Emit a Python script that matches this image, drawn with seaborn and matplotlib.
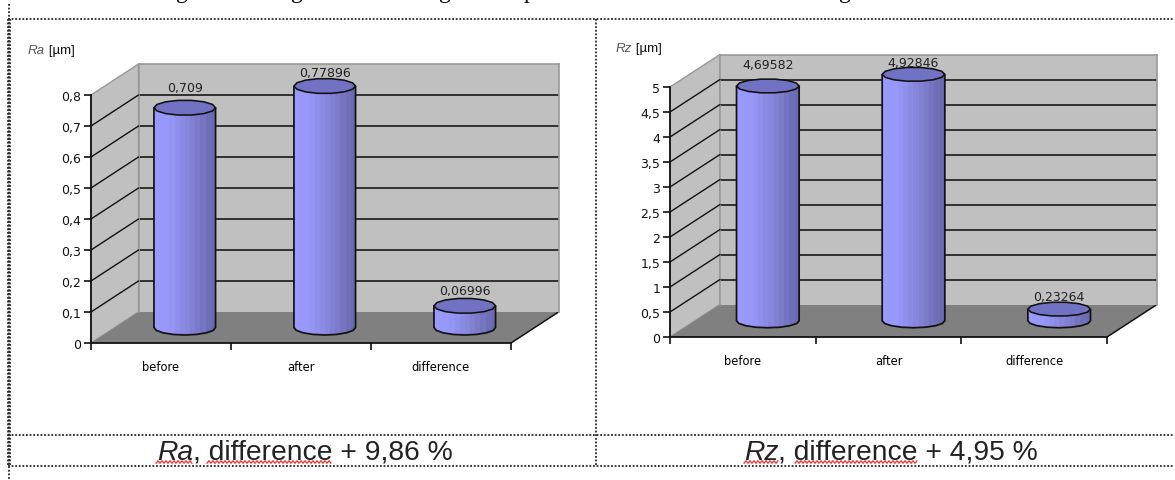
import numpy as np
import pandas as pd
import matplotlib
matplotlib.use("Agg")
import matplotlib.pyplot as plt
from matplotlib.colors import LinearSegmentedColormap
from matplotlib.patches import ConnectionPatch, Ellipse, PathPatch, Polygon
from matplotlib.path import Path
import seaborn as sns

# Measured roughness values
categories = ["before", "after", "difference"]
ra_values = [0.709, 0.77896, 0.06996]
rz_values = [4.69582, 4.92846, 0.23264]
ra_value_labels = ["0,709", "0,77896", "0,06996"]
rz_value_labels = ["4,69582", "4,92846", "0,23264"]
ra_ticks = [0, 0.1, 0.2, 0.3, 0.4, 0.5, 0.6, 0.7, 0.8]
ra_tick_labels = ["0", "0,1", "0,2", "0,3", "0,4", "0,5", "0,6", "0,7", "0,8"]
rz_ticks = [0, 0.5, 1, 1.5, 2, 2.5, 3, 3.5, 4, 4.5, 5]
rz_tick_labels = ["0", "0,5", "1", "1,5", "2", "2,5", "3", "3,5", "4", "4,5", "5"]

W, H = 1175, 481
DPI = 100

sns.set_theme(style="white")
plt.rcParams["font.family"] = ["DejaVu Sans"]

fig = plt.figure(figsize=(W / DPI, H / DPI), dpi=DPI, facecolor="white")

page = fig.add_axes([0, 0, 1, 1], zorder=0)
page.set_xlim(0, W)
page.set_ylim(H, 0)
page.set_axis_off()

WALL = "#c0c0c0"
FLOOR = "#808080"
EDGE = "#999999"
INK = "#111111"
cyl_cmap = LinearSegmentedColormap.from_list(
    "cyl", ["#9999ff", "#9898fa", "#8e8eea", "#8484d8", "#7676c2", "#6a6ab0"], N=12
)


def px_axes(x0, y_top, x1, y_bottom, z):
    return fig.add_axes(
        [x0 / W, 1 - y_bottom / H, (x1 - x0) / W, (y_bottom - y_top) / H], zorder=z
    )


def draw_panel(x0, x1, y0, ytop, dx, dy, values, value_labels, ticks, tick_labels,
               bar_width, label_rise, ry_px):
    vmax = ticks[-1]
    xlim = (-0.5, 2.5)

    # Back wall with its gridlines
    back = px_axes(x0 + dx, ytop - dy, x1 + dx, y0 - dy, 1)
    back.set_facecolor(WALL)
    back.set_xlim(xlim)
    back.set_ylim(0, vmax)
    back.set_xticks([])
    back.set_yticks(ticks[1:-1])
    back.set_yticklabels([])
    back.tick_params(length=0)
    back.yaxis.grid(True, color=INK, lw=1.15)
    back.set_axisbelow(True)
    for side in back.spines.values():
        side.set_color(EDGE)
        side.set_linewidth(1.2)
    back.spines["bottom"].set_visible(False)

    # Side wall and floor of the box
    page.add_patch(Polygon([(x0, y0), (x0 + dx, y0 - dy), (x0 + dx, ytop - dy), (x0, ytop)],
                           closed=True, facecolor=WALL, edgecolor=EDGE, lw=1.0))
    page.add_patch(Polygon([(x0, y0), (x1, y0), (x1 + dx, y0 - dy), (x0 + dx, y0 - dy)],
                           closed=True, facecolor=FLOOR, edgecolor="none"))
    page.plot([x1, x1 + dx], [y0, y0 - dy], color=INK, lw=1.1, solid_capstyle="butt")

    # Front plane carrying the axes, ticks and category names
    front = px_axes(x0, ytop, x1, y0, 3)
    front.set_facecolor("none")
    front.set_xlim(xlim)
    front.set_ylim(0, vmax)
    front.set_yticks(ticks)
    front.set_yticklabels(tick_labels, fontsize=9, color=INK)
    front.set_xticks([-0.5, 0.5, 1.5, 2.5])
    front.set_xticklabels([])
    front.set_xticks([0, 1, 2], categories, minor=True, fontsize=8.3, color="#000000")
    front.tick_params(axis="y", which="major", left=True, length=5, width=1.2, pad=2, color=INK)
    front.tick_params(axis="x", which="major", bottom=True, length=5, width=1.2, color=INK)
    front.tick_params(axis="x", which="minor", bottom=False, length=0, pad=12)
    for name, side in front.spines.items():
        side.set_visible(name in ("left", "bottom"))
        side.set_color(INK)
        side.set_linewidth(1.3)

    # Connectors from the axis ticks back to the wall gridlines
    for v in ticks[1:-1]:
        link = ConnectionPatch(xyA=(xlim[0], v), coordsA=front.transData,
                               xyB=(xlim[0], v), coordsB=back.transData,
                               color=INK, lw=1.0, zorder=1.5)
        fig.add_artist(link)

    # Cylinders stand halfway between the front plane and the back wall
    mid = px_axes(x0 + dx / 2, ytop - dy / 2, x1 + dx / 2, y0 - dy / 2, 2)
    frame = pd.DataFrame({"stage": categories, "value": values})
    sns.barplot(data=frame, x="stage", y="value", ax=mid, order=categories,
                color="#9999ff", saturation=1, width=bar_width, linewidth=0)
    mid.set_xlim(xlim)
    mid.set_ylim(0, vmax)
    mid.set_axis_off()

    ry = ry_px * vmax / (y0 - ytop)
    theta = np.linspace(np.pi, 2 * np.pi, 9)
    ring = np.linspace(0, 2 * np.pi, 15)
    for i, bar in enumerate(mid.patches):
        left, right = bar.get_x(), bar.get_x() + bar.get_width()
        top = bar.get_height()
        centre, rx = (left + right) / 2, (right - left) / 2
        arc = np.column_stack([centre + rx * np.cos(theta), ry * np.sin(theta)])
        outline = np.vstack([[left, top], arc, [right, top]])

        image = mid.imshow(np.linspace(0, 1, 12)[None, :], cmap=cyl_cmap, aspect="auto",
                           extent=(left, right, -ry, top), zorder=3, interpolation="nearest")
        image.set_clip_box(fig.bbox)
        image.set_clip_path(Path(np.vstack([outline, outline[0]]), closed=True), mid.transData)

        mid.add_patch(PathPatch(Path(outline), facecolor="none", edgecolor=INK,
                                lw=1.25, zorder=4, clip_on=False))
        mid.annotate(value_labels[i], xy=(centre, top),
                     xytext=(0, label_rise[i]), textcoords="offset pixels",
                     ha="center", va="center", fontsize=9, color="#222222",
                     zorder=5, annotation_clip=False)
        # Lid as a coarse polygon, the way the chart's low-resolution ellipse renders
        lid = np.column_stack([centre + rx * np.cos(ring), top + ry * np.sin(ring)])
        mid.add_patch(Polygon(lid, closed=True, facecolor="#7272c4",
                              edgecolor=INK, lw=1.15, zorder=6, clip_on=False))
    mid.set_xlim(xlim)
    mid.set_ylim(0, vmax)


def text_run(x, y, pieces, **common):
    """Write differently styled pieces one after the other on a baseline."""
    renderer = fig.canvas.get_renderer()
    for content, style in pieces:
        piece = page.text(x, y, content, va="baseline", ha="left", **common, **style)
        x = page.transData.inverted().transform(
            (piece.get_window_extent(renderer).x1, 0))[0]


def dotted(xs, ys):
    page.plot(xs, ys, color="#262626", lw=1.3, ls=(0, (1, 1)), dash_capstyle="butt")


def squiggle(x0, x1, y):
    xs = np.arange(x0, x1 + 0.1, 2.0)
    ys = y + np.where(np.arange(xs.size) % 2 == 0, 1.3, -1.3)
    page.plot(xs, ys, color="#e2403f", lw=1.0, solid_joinstyle="miter")


draw_panel(91, 511, 344, 96, 47.5, 31, ra_values, ra_value_labels, ra_ticks, ra_tick_labels,
           0.44, [20, 14, 15], 7.5)
draw_panel(670, 1107, 338, 88, 50, 32.5, rz_values, rz_value_labels, rz_ticks, rz_tick_labels,
           0.43, [21, 12, 13], 7.0)

# Units above each axis
units = {"fontsize": 9.6, "family": "Liberation Sans"}
text_run(28, 54, [("Ra", {"style": "italic", "color": "#555555"}),
                  (" [µm]", {"color": INK})], **units)
text_run(616, 52, [("Rz", {"style": "italic", "color": "#555555"}),
                   (" [µm]", {"color": INK})], **units)

# Descenders of the body text line running off the top of the page
for tail_x, tail in zip((176, 291, 439, 524, 839), "gggpg"):
    page.text(tail_x, -2, tail, family="Liberation Serif", fontsize=17,
              color="black", va="baseline", ha="left")

# Table rules around the panels
for y in (20, 436, 467):
    dotted([8, 1173], [y, y])
dotted([9, 9], [5, 481])
dotted([8, 8], [20, 467])
dotted([10, 10], [20, 467])
dotted([596, 596], [20, 467])

# Captions in the lower table row
caption = {"fontsize": 20.3, "family": "Liberation Sans", "color": "#222222"}
text_run(157, 460, [("Ra", {"style": "italic"}), (", difference + 9,86 %", {})], **caption)
text_run(744, 460, [("Rz", {"style": "italic"}), (", difference + 4,95 %", {})], **caption)
squiggle(156, 193, 463)
squiggle(207, 331, 463)
squiggle(744, 778, 463)
squiggle(795, 918, 463)

fig.savefig("out.png", dpi=DPI)
